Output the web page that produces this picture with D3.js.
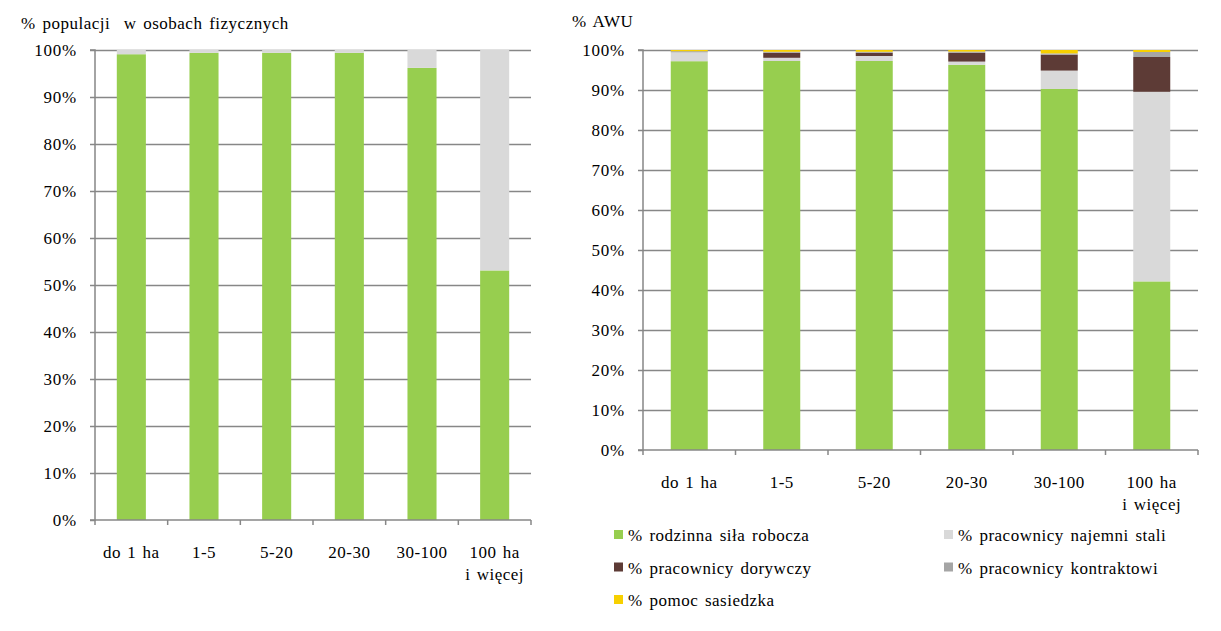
<!DOCTYPE html>
<html>
<head>
<meta charset="utf-8">
<script src="https://cdn.jsdelivr.net/npm/d3@7"></script>
<style>
  body { margin: 0; background: #fff; }
  svg { display: block; }
</style>
</head>
<body>
<svg id="chart"></svg>
<script>
// categories (farm size)
let categories = ["do 1 ha", "1-5", "5-20", "20-30", "30-100", "100 ha\ni więcej"];

// left chart: % population in persons
let popFamily = [99.1, 99.4, 99.4, 99.4, 96.2, 53.1];
let popHired = [0.9, 0.6, 0.6, 0.6, 3.8, 46.9];

// right chart: % AWU
let awuRodzinna = [97.2, 97.25, 97.25, 96.3, 90.25, 42.15];
let awuNajemni = [2.2, 0.8, 1.25, 0.8, 4.6, 47.4];
let awuDorywczy = [0, 1.25, 0.8, 2.2, 4.0, 8.7];
let awuKontraktowi = [0.3, 0.25, 0.25, 0.3, 0.3, 1.25];
let awuSasiedzka = [0.3, 0.45, 0.45, 0.4, 0.85, 0.5];

let seriesNames = [
  "% rodzinna siła robocza",
  "% pracownicy najemni stali",
  "% pracownicy dorywczy",
  "% pracownicy kontraktowi",
  "% pomoc sasiedzka"
];
let seriesColors = ["#97ce4f", "#d9d9d9", "#5d3b36", "#a5a5a5", "#f7d000"];

let yTicks = [0, 10, 20, 30, 40, 50, 60, 70, 80, 90, 100];

let width = 1221;
let height = 631;
let svg = d3.select("#chart").attr("width", width).attr("height", height);

let axisColor = "#878787";
let fontSize = 17;
let serif = '"Liberation Serif", "Times New Roman", serif';

function styleText(sel, ls, ws) {
  sel.attr("font-family", serif)
    .attr("font-size", fontSize)
    .attr("fill", "#000")
    .attr("letter-spacing", ls)
    .attr("word-spacing", ws);
}

function drawChart(box, stacks, title, titlePos) {
  let x = d3.scaleBand()
    .domain(categories)
    .range([box.left, box.right])
    .paddingInner(0.6)
    .paddingOuter(0.3);

  let y = d3.scaleLinear().domain([0, 100]).range([box.bottom, box.top]);

  let g = svg.append("g");

  // gridlines
  g.append("g")
    .attr("transform", `translate(${box.left},0)`)
    .call(d3.axisLeft(y).tickValues(yTicks.slice(1)).tickSize(-(box.right - box.left)).tickFormat(""))
    .call(function (s) {
      s.select(".domain").remove();
      s.selectAll("line").attr("stroke", axisColor).attr("stroke-width", 1.5);
    });

  // stacked bars
  let stacked = d3.stack().keys(d3.range(stacks.length))(
    categories.map(function (c, i) {
      let row = {};
      stacks.forEach(function (s, k) { row[k] = s.values[i]; });
      return row;
    })
  );

  stacked.forEach(function (layer, k) {
    g.append("g")
      .attr("fill", stacks[k].color)
      .selectAll("rect")
      .data(layer)
      .enter()
      .append("rect")
      .attr("x", function (d, i) { return x(categories[i]); })
      .attr("width", x.bandwidth())
      .attr("y", function (d) { return y(d[1]); })
      .attr("height", function (d) { return y(d[0]) - y(d[1]); });
  });

  // y axis
  g.append("g")
    .attr("transform", `translate(${box.left},0)`)
    .call(d3.axisLeft(y).tickValues(yTicks).tickSize(5).tickPadding(13).tickFormat(function (d) { return d + "%"; }))
    .call(function (s) {
      s.attr("font-family", null).attr("font-size", null);
      s.select(".domain").attr("stroke", axisColor).attr("stroke-width", 1.5).attr("d", `M-5,${box.bottom}H0V${box.top}H-5`);
      s.selectAll("line").attr("stroke", axisColor).attr("stroke-width", 1.5);
      styleText(s.selectAll("text"), 0.8, 0);
    });

  // x axis baseline + boundary ticks
  g.append("line")
    .attr("x1", box.left).attr("x2", box.right)
    .attr("y1", box.bottom).attr("y2", box.bottom)
    .attr("stroke", axisColor).attr("stroke-width", 1.5);

  g.selectAll(".xtick")
    .data(d3.range(categories.length + 1))
    .enter()
    .append("line")
    .attr("x1", function (i) { return box.left + i * x.step(); })
    .attr("x2", function (i) { return box.left + i * x.step(); })
    .attr("y1", box.bottom)
    .attr("y2", box.bottom + 5)
    .attr("stroke", axisColor).attr("stroke-width", 1.5);

  // x labels
  let labels = g.selectAll(".xlabel")
    .data(categories)
    .enter()
    .append("text")
    .attr("text-anchor", "middle")
    .attr("x", function (d) { return x(d) + x.bandwidth() / 2; })
    .attr("y", box.bottom + 38)
    .call(styleText, 0.5, 1.5);

  labels.selectAll("tspan")
    .data(function (d) { return d.split("\n"); })
    .enter()
    .append("tspan")
    .attr("x", function () { return this.parentNode.getAttribute("x"); })
    .attr("dy", function (d, i) { return i === 0 ? 0 : 22; })
    .text(function (d) { return d; });

  // title
  g.append("text")
    .attr("x", titlePos[0])
    .attr("y", titlePos[1])
    .style("white-space", "pre")
    .call(styleText, 0.5, 2)
    .text(title);
}

drawChart(
  { left: 95, right: 531, top: 50, bottom: 520 },
  [
    { values: popFamily, color: seriesColors[0] },
    { values: popHired, color: seriesColors[1] }
  ],
  "% populacji  w osobach fizycznych",
  [21, 29]
);

drawChart(
  { left: 643, right: 1198, top: 50, bottom: 450 },
  [
    { values: awuRodzinna, color: seriesColors[0] },
    { values: awuNajemni, color: seriesColors[1] },
    { values: awuDorywczy, color: seriesColors[2] },
    { values: awuKontraktowi, color: seriesColors[3] },
    { values: awuSasiedzka, color: seriesColors[4] }
  ],
  "% AWU",
  [572, 27]
);

// legend (two columns, three rows)
let legendCols = [614, 944];
let legendRows = [541, 573.5, 606];
let legend = svg.append("g")
  .selectAll("g")
  .data(seriesNames)
  .enter()
  .append("g")
  .attr("transform", function (d, i) {
    return `translate(${legendCols[i % 2]},${legendRows[Math.floor(i / 2)]})`;
  });

legend.append("rect")
  .attr("x", 0).attr("y", -11)
  .attr("width", 9).attr("height", 9)
  .attr("fill", function (d, i) { return seriesColors[i]; });

legend.append("text")
  .attr("x", 14)
  .attr("y", 0)
  .call(styleText, 0.5, 2)
  .text(function (d) { return d; });
</script>
</body>
</html>
